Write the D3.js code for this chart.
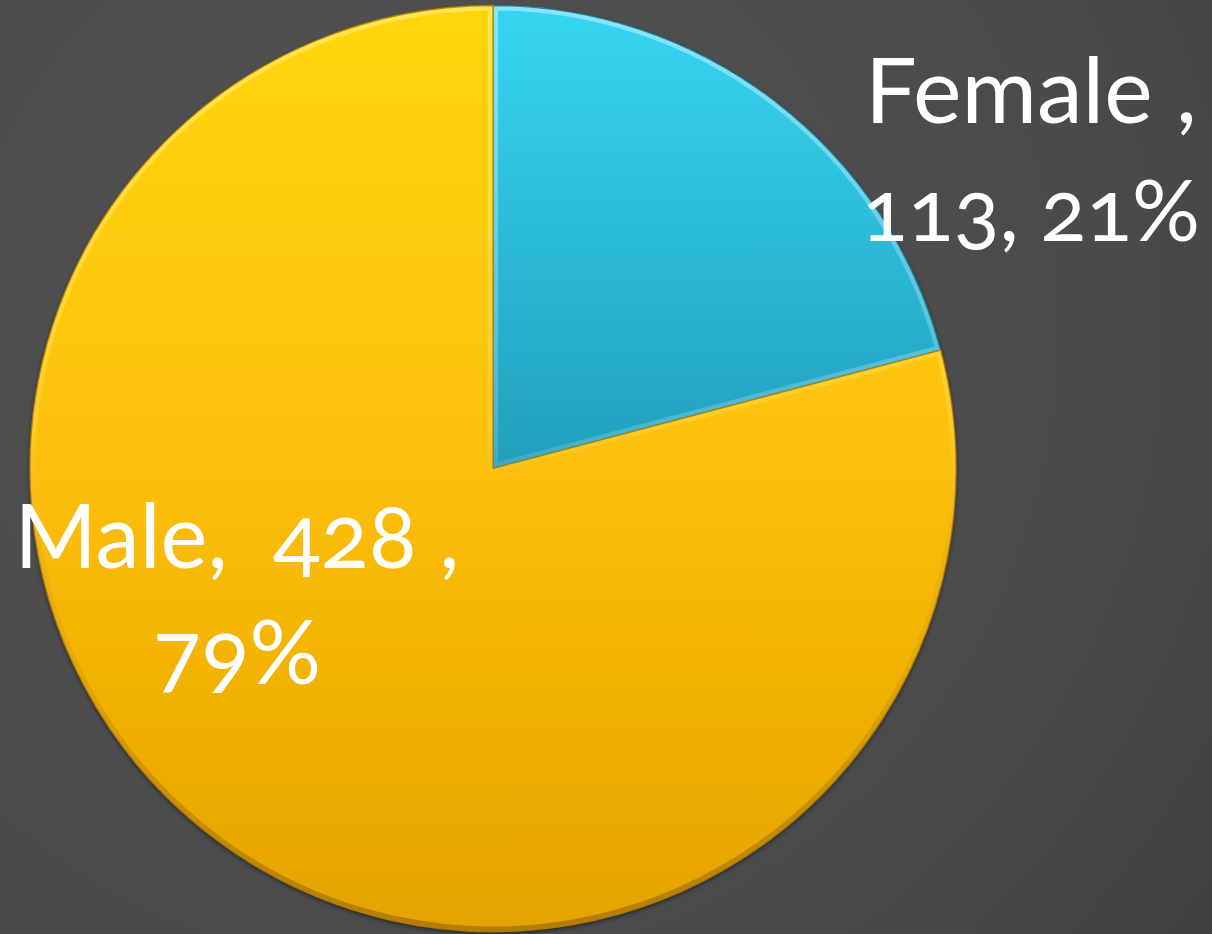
<!DOCTYPE html>
<html>
<head>
<meta charset="utf-8">
<script src="https://cdn.jsdelivr.net/npm/d3@7"></script>
<style>
  html, body { margin: 0; padding: 0; background: #4a4a4a; }
  svg { display: block; }
  .label { font-family: Lato, "Open Sans", sans-serif; font-variant-numeric: oldstyle-nums; font-feature-settings: "onum" 1; white-space: pre; }
</style>
</head>
<body>
<div id="chart"></div>
<script>
// chart data
var categories = ['Female', 'Male'];
var counts = [113, 428];
// label lines as shown on the slide (data label: name, value, percent)
var labelLines = [
  ['Female ,', '113, 21%'],
  ['Male,  428 ,', '79%']
];

var width = 1212, height = 934;

// pie geometry
var cx = 493, cy = 468.5, radius = 463;

var svg = d3.select('#chart').append('svg')
  .attr('width', width)
  .attr('height', height);

var defs = svg.append('defs');

// background: dark grey, a bit lighter towards the top left
var bg = defs.append('radialGradient')
  .attr('id', 'bg')
  .attr('gradientUnits', 'userSpaceOnUse')
  .attr('cx', 420).attr('cy', 330).attr('r', 1150);
bg.append('stop').attr('offset', 0).attr('stop-color', '#535353');
bg.append('stop').attr('offset', 0.6).attr('stop-color', '#4a4a4a');
bg.append('stop').attr('offset', 1).attr('stop-color', '#3b3b3b');

svg.append('rect')
  .attr('width', width).attr('height', height)
  .attr('fill', 'url(#bg)');

// slice fills, vertical over the whole pie (group coords: centre at 0,0)
var fills = {
  Female: ['#36d6f3', '#229fbd', '#177b96'],
  Male: ['#ffd60a', '#fdbf07', '#e5a305']
};
// bevel tints per slice: highlight, shade
var bevels = {
  Female: ['#e8fbff', '#05404f'],
  Male: ['#fff7a8', '#6a4000']
};
categories.forEach(function (c, i) {
  var g = defs.append('linearGradient')
    .attr('id', 'fill-' + i)
    .attr('gradientUnits', 'userSpaceOnUse')
    .attr('x1', 0).attr('y1', -radius)
    .attr('x2', 0).attr('y2', radius);
  g.append('stop').attr('offset', 0).attr('stop-color', fills[c][0]);
  g.append('stop').attr('offset', 0.5).attr('stop-color', fills[c][1]);
  g.append('stop').attr('offset', 1).attr('stop-color', fills[c][2]);

  // bevel stroke: light on top, dark at the bottom
  var b = defs.append('linearGradient')
    .attr('id', 'bevel-' + i)
    .attr('gradientUnits', 'userSpaceOnUse')
    .attr('x1', 0).attr('y1', -radius)
    .attr('x2', 0).attr('y2', radius);
  b.append('stop').attr('offset', 0).attr('stop-color', bevels[c][0]).attr('stop-opacity', 0.45);
  b.append('stop').attr('offset', 0.45).attr('stop-color', bevels[c][0]).attr('stop-opacity', 0.2);
  b.append('stop').attr('offset', 0.7).attr('stop-color', bevels[c][1]).attr('stop-opacity', 0.08);
  b.append('stop').attr('offset', 1).attr('stop-color', bevels[c][1]).attr('stop-opacity', 0.4);
});

// soft shadow under the pie
var shadow = defs.append('filter')
  .attr('id', 'shadow')
  .attr('x', '-10%').attr('y', '-10%')
  .attr('width', '120%').attr('height', '120%');
shadow.append('feDropShadow')
  .attr('dx', 0).attr('dy', 2)
  .attr('stdDeviation', 2)
  .attr('flood-color', '#000')
  .attr('flood-opacity', 0.45);

var pie = d3.pie().sort(null).value(function (d) { return d; });
var arcs = pie(counts);
var arc = d3.arc().innerRadius(0).outerRadius(radius);

var g = svg.append('g')
  .attr('transform', 'translate(' + cx + ',' + cy + ')');

// clip paths so the bevel only shows inside each slice
arcs.forEach(function (a, i) {
  defs.append('clipPath')
    .attr('id', 'clip-' + i)
    .append('path')
    .attr('d', arc(a));
});

var slices = g.append('g').attr('filter', 'url(#shadow)')
  .selectAll('g.slice')
  .data(arcs)
  .enter().append('g')
  .attr('class', 'slice');

slices.append('path')
  .attr('d', arc)
  .attr('fill', function (d, i) { return 'url(#fill-' + i + ')'; });

// inner bevel highlight / shade
slices.append('path')
  .attr('d', arc)
  .attr('fill', 'none')
  .attr('stroke', function (d, i) { return 'url(#bevel-' + i + ')'; })
  .attr('stroke-width', 10)
  .attr('stroke-linejoin', 'round')
  .attr('clip-path', function (d, i) { return 'url(#clip-' + i + ')'; });

// thin dark outline
slices.append('path')
  .attr('d', arc)
  .attr('fill', 'none')
  .attr('stroke', function (d, i) { return i === 0 ? '#177890' : '#b58000'; })
  .attr('stroke-opacity', 0.85)
  .attr('stroke-width', 1.3)
  .attr('stroke-linejoin', 'round');

// data labels, placed relative to the pie centre
var labelPos = [
  { dx: 538, dy: -346, gap: 118, maxW: [332, 338] },
  { dx: -256, dy: 99.5, gap: 116, maxW: [445, 168] }
];

arcs.forEach(function (a, i) {
  var t = g.append('text')
    .attr('class', 'label')
    .attr('text-anchor', 'middle')
    .attr('fill', '#ffffff')
    .attr('font-size', 95);
  labelLines[i].forEach(function (line, k) {
    var ts = t.append('tspan')
      .attr('x', labelPos[i].dx)
      .attr('y', labelPos[i].dy + k * labelPos[i].gap)
      .text(line);
    // shrink a line that runs wider than in the original
    var w = ts.node().getComputedTextLength();
    if (w > labelPos[i].maxW[k]) {
      ts.attr('font-size', 95 * labelPos[i].maxW[k] / w);
    }
  });
});
</script>
</body>
</html>
